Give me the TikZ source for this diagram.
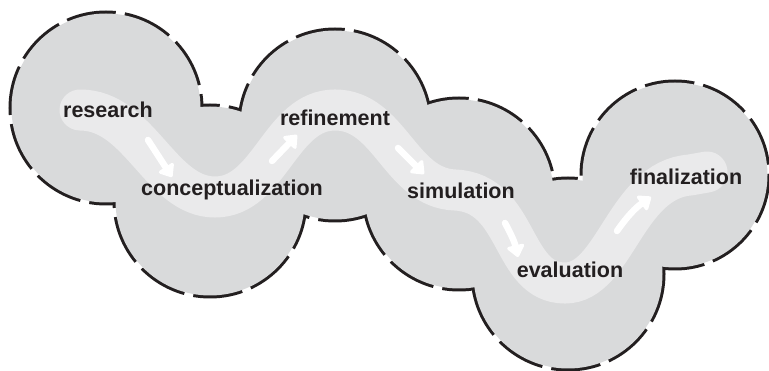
\documentclass[tikz,border=0pt]{standalone}
\usepackage{fontspec}
\setmainfont{Liberation Sans}
\usetikzlibrary{arrows.meta}
\definecolor{blob}{HTML}{D9DADB}
\definecolor{path}{HTML}{EAEAEB}
\definecolor{ink}{HTML}{231F20}
\tikzset{
  rim/.style={draw=ink, line width=6pt, dash pattern=on 49pt off 9pt},
  blobfill/.style={fill=blob},
  lbl/.style={font=\fontsize{21.5}{25}\selectfont\bfseries, text=ink, inner sep=0pt},
  flow/.style={draw=path, line width=41pt, line cap=round},
  arr/.style={draw=white, line width=6.5pt, line cap=round,
    -{Triangle[width=20pt,length=13pt,round]}}
}
\begin{document}
\begin{tikzpicture}[x=1pt,y=-1pt]
\useasboundingbox (0,0) rectangle (769,371);
% circle centres
\coordinate (c1) at (106,108);
\coordinate (c2) at (210,201);
\coordinate (c3) at (335,125);
\coordinate (c4) at (459,194);
\coordinate (c5) at (568,274);
\coordinate (c6) at (675,175);
% dashed rims
\foreach \c/\r in {c1/94.5,c2/94.5,c3/94.5,c4/94.5,c5/94.5,c6/92.5}
  \draw[rim] (\c) circle[radius=\r];
% grey fill
\foreach \c/\r in {c1/94.5,c2/94.5,c3/94.5,c4/94.5,c5/94.5,c6/92.5}
  \fill[blobfill] (\c) circle[radius=\r];
% light flow band
\draw[flow] (80,110) .. controls (140,110) and (160,197) .. (215,197)
  .. controls (270,197) and (280,110) .. (335,110)
  .. controls (390,110) and (400,188) .. (455,190)
  .. controls (520,193) and (510,283) .. (565,283)
  .. controls (615,283) and (625,180) .. (690,175)
  -- (707,172);
% arrows
\coordinate (a1s) at (148,140); \coordinate (a1e) at (172,177);
\coordinate (a2s) at (272,161); \coordinate (a2e) at (297,135);
\coordinate (a3s) at (398,148); \coordinate (a3e) at (424,174);
\coordinate (a4s) at (505,223); \coordinate (a4e) at (518,257);
\coordinate (a5s) at (617,231); \coordinate (a5e) at (651,197);
\draw[arr] (a1s) -- (a1e);
\draw[arr] (a2s) -- (a2e);
\draw[arr] (a3s) -- (a3e);
\draw[arr] (a4s) to[bend left=8] (a4e);
\draw[arr] (a5s) to[out=55,in=215] (a5e);
% labels
\node[lbl] (research) at (108,110) {research};
\node[lbl] (concept) at (232,190) {conceptualization};
\node[lbl] (refine) at (335,118) {refinement};
\node[lbl] (sim) at (461,191) {simulation};
\node[lbl] (eval) at (570,270) {evaluation};
\node[lbl] (final) at (686,177) {finalization};
\end{tikzpicture}
\end{document}
